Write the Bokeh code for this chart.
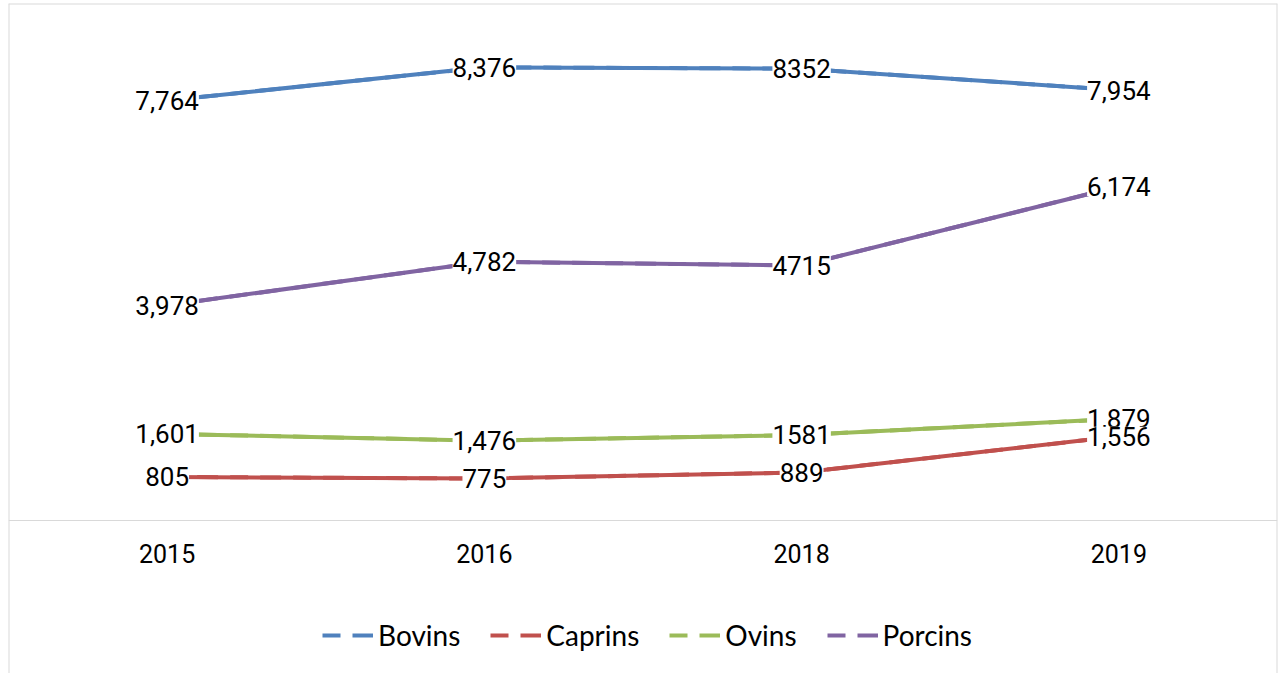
from bokeh.plotting import figure
from bokeh.models import (ColumnDataSource, LabelSet, Legend, LegendItem, FactorRange,
                          Range1d, Span)
from bokeh.core.properties import value
from bokeh.embed import file_html
from bokeh.resources import INLINE

years = ["2015", "2016", "2018", "2019"]
series_names = ["Bovins", "Caprins", "Ovins", "Porcins"]
bovins = [7764, 8376, 8352, 7954]
caprins = [805, 775, 889, 1556]
ovins = [1601, 1476, 1581, 1879]
porcins = [3978, 4782, 4715, 6174]
bovins_labels = ["7,764", "8,376", "8352", "7,954"]
caprins_labels = ["805", "775", "889", "1,556"]
ovins_labels = ["1,601", "1,476", "1581", "1,879"]
porcins_labels = ["3,978", "4,782", "4715", "6,174"]
colors = ["#4F81BD", "#C0504D", "#9BBB59", "#8064A2"]

values_all = [bovins, caprins, ovins, porcins]
labels_all = [bovins_labels, caprins_labels, ovins_labels, porcins_labels]

y_range = Range1d(-2828, 9556)
p = figure(width=1279, height=673, output_backend="svg", toolbar_location=None,
           x_range=FactorRange(factors=years, range_padding=0),
           y_range=y_range,
           y_axis_location=None, min_border_left=8, min_border_right=2,
           min_border_top=3, min_border_bottom=0)
p.background_fill_color = "white"
p.border_fill_color = "white"
p.outline_line_color = None
p.xgrid.visible = False
p.ygrid.visible = False

# chart border (left, right, top) at the frame edges
border_col = "#d9d9d9"
p.add_layout(Span(location=0, dimension="height", line_color=border_col, line_width=2))
p.add_layout(Span(location=len(years), dimension="height", line_color=border_col, line_width=2))
p.add_layout(Span(location=y_range.end, dimension="width", line_color=border_col, line_width=2))

ax = p.xaxis[0]
ax.fixed_location = 0
ax.axis_line_color = border_col
ax.axis_line_width = 1
ax.major_tick_line_color = None
ax.minor_tick_line_color = None
ax.major_tick_in = 0
ax.major_tick_out = 0
ax.major_label_standoff = 24
ax.major_label_text_font = "Roboto"
ax.major_label_text_font_size = "25px"
ax.major_label_text_color = "black"

sources = []
legend_renderers = []
for name, vals, labs, col in zip(series_names, values_all, labels_all, colors):
    src = ColumnDataSource(dict(x=years, y=vals, label=labs))
    sources.append(src)
    # dashed copy (legend style) hidden under the solid line
    legend_renderers.append(p.line("x", "y", source=src, line_color=col, line_width=4,
                                   line_dash="18 12 21 12"))
for src, col in zip(sources, colors):
    p.line("x", "y", source=src, line_color=col, line_width=4)

# data labels (Caprins drawn last so it sits over Ovins)
for idx in [0, 3, 2, 1]:
    ls = LabelSet(x="x", y="y", text="label", source=sources[idx],
                  text_align="center", text_baseline="middle",
                  text_font=value("Roboto"), text_font_size="26px",
                  text_color="black", background_fill_color="white")
    p.add_layout(ls)

items = [LegendItem(label=name, renderers=[r]) for name, r in zip(series_names, legend_renderers)]

legend = Legend(items=items, orientation="horizontal", location=(314, 21),
                padding=0, margin=0, spacing=30, label_standoff=5,
                glyph_width=51, glyph_height=20,
                label_text_font="Lato", label_text_font_size="28px",
                label_text_color="black",
                border_line_color=None, background_fill_alpha=0)
p.add_layout(legend)

open("out.html", "w").write(file_html(p, INLINE))
